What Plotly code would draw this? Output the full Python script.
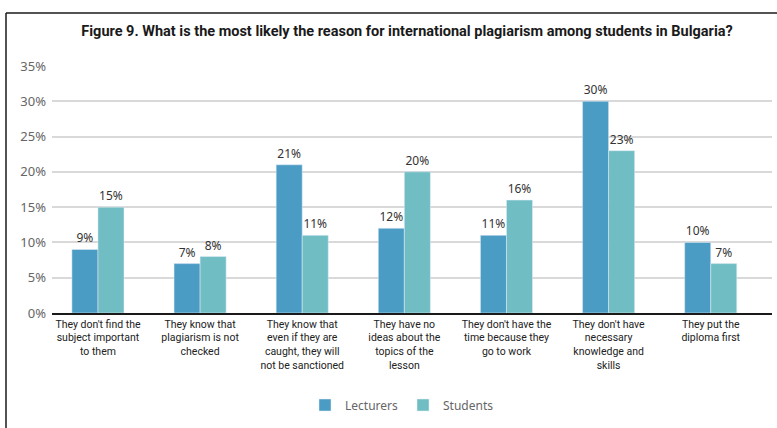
import plotly.graph_objects as go

# Survey answers: most likely reason for plagiarism among students
categories = [
    "They don't find the<br>subject important<br>to them",
    "They know that<br>plagiarism is not<br>checked",
    "They know that<br>even if they are<br>caught, they will<br>not be sanctioned",
    "They have no<br>ideas about the<br>topics of the<br>lesson",
    "They don't have the<br>time because they<br>go to work",
    "They don't have<br>necessary<br>knowledge and<br>skills",
    "They put the<br>diploma first",
]
lecturers = [9, 7, 21, 12, 11, 30, 10]
students = [15, 8, 11, 20, 16, 23, 7]
y_ticks = [0, 5, 10, 15, 20, 25, 30, 35]

W, H = 777, 428
L, R, T, B = 52, 5, 66, 115
plot_w, plot_h = W - L - R, H - T - B

def px_x(px):
    return (px - L) / plot_w

def px_y(py):
    return (H - B - py) / plot_h

cond_font = "Roboto, sans-serif"
label_font = dict(size=12, color="#333333", family="Noto Sans")
xs = list(range(len(categories)))

fig = go.Figure()
fig.add_trace(go.Bar(
    name="Lecturers", x=xs, y=lecturers,
    marker_color="#4A9CC4", text=[f"{v}%" for v in lecturers],
    textposition="outside", textfont=label_font, cliponaxis=False,
))
fig.add_trace(go.Bar(
    name="Students", x=xs, y=students,
    marker_color="#70BEC4", text=[f"{v}%" for v in students],
    textposition="outside", textfont=label_font, cliponaxis=False,
))

fig.update_layout(
    width=W, height=H,
    margin=dict(l=L, r=R, t=T, b=B, pad=0),
    paper_bgcolor="white", plot_bgcolor="white",
    barmode="group", bargap=0.49, bargroupgap=0,
    title=dict(
        text="<b>Figure 9. What is the most likely the reason for international plagiarism among students in Bulgaria?</b>",
        x=407 / W, xanchor="center", xref="container",
        y=1 - 31 / H, yanchor="middle", yref="container",
        font=dict(family=cond_font, size=14.5, color="#1a1a1a"),
    ),
    xaxis=dict(
        tickmode="array", tickvals=xs, ticktext=categories, tickangle=0,
        range=[-0.45, 6.6], showgrid=False, showline=True, linecolor="#1a1a1a",
        linewidth=2, ticks="", tickfont=dict(family=cond_font, size=10.5, color="#222222"),
    ),
    yaxis=dict(
        range=[0, 35], tickmode="array", tickvals=y_ticks,
        ticktext=[f"{v}%" for v in y_ticks], showgrid=True,
        gridcolor="#D9D9D9", gridwidth=1.5, zeroline=False, showline=False,
        tickfont=dict(family="Noto Sans", size=13, color="#666666"),
        ticklabelstandoff=5,
    ),
    legend=dict(
        orientation="h", x=px_x(402), xanchor="center",
        y=px_y(405), yanchor="middle",
        font=dict(family="Noto Sans", size=12, color="#666666"),
        traceorder="normal", itemwidth=30,
    ),
    showlegend=True,
    shapes=[
        dict(type="line", xref="paper", yref="paper",
             x0=px_x(6), x1=px_x(W + 5), y0=px_y(13), y1=px_y(13),
             line=dict(color="#1a1a1a", width=1.5)),
        dict(type="line", xref="paper", yref="paper",
             x0=px_x(6), x1=px_x(6), y0=px_y(13), y1=px_y(H + 5),
             line=dict(color="#1a1a1a", width=1.5)),
    ],
)

fig.write_html("out.html")
